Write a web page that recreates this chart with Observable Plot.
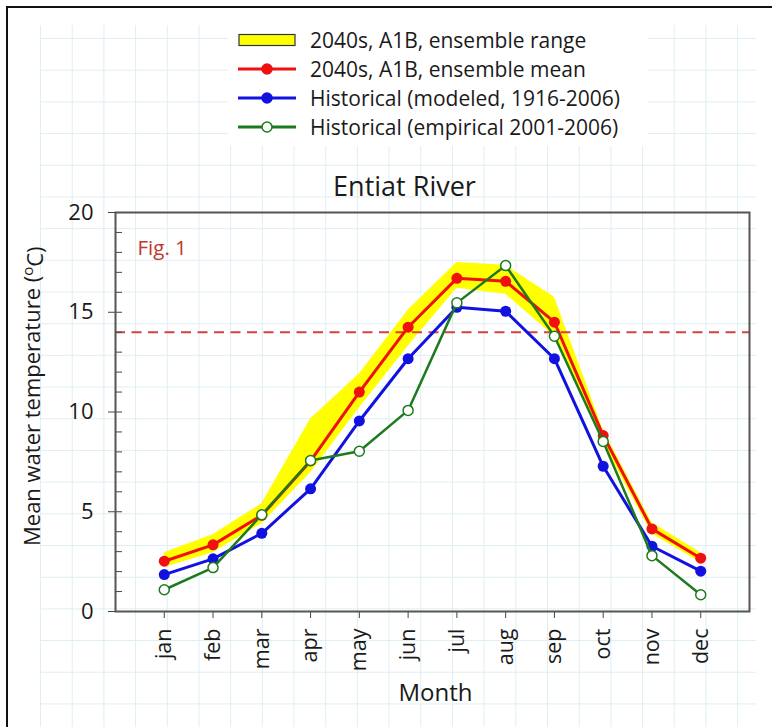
<!DOCTYPE html>
<html><head><meta charset="utf-8">
<script src="https://cdn.jsdelivr.net/npm/d3@7"></script>
<script src="https://cdn.jsdelivr.net/npm/@observablehq/plot@0.6"></script>
<style>
html,body{margin:0;padding:0;background:#fff;}
#page{position:relative;width:772px;height:727px;overflow:hidden;font-family:"Open Sans",sans-serif;color:#1a1a1a;}
#paper{position:absolute;left:40px;top:25px;width:716px;height:702px;
  background-image:linear-gradient(to right,#dfeef2 1px,transparent 1px),linear-gradient(to bottom,#dfeef2 1px,transparent 1px);
  background-size:31.7px 31.7px;background-position:0 13px;}
#border{position:absolute;left:6px;top:6px;width:800px;height:800px;border-left:2px solid #111;border-top:2px solid #111;}
#legend{position:absolute;left:228px;top:20px;width:420px;height:126px;background:#fff;}
.row{position:absolute;left:10px;height:26px;display:flex;align-items:center;font-size:21px;white-space:nowrap;}
.row svg{margin-right:14px;}
#chart{position:absolute;left:0;top:0;}
</style>
</head><body>
<div id="page"><div id="paper"></div><div id="border"></div><div id="legend"></div><div id="chart"></div></div>
<script>
const months = ["jan","feb","mar","apr","may","jun","jul","aug","sep","oct","nov","dec"];
const ensembleMean = [2.52, 3.34, 4.82, 7.55, 11.0, 14.25, 16.7, 16.55, 14.5, 8.82, 4.14, 2.67];
const historicalModeled = [1.85, 2.64, 3.92, 6.15, 9.55, 12.67, 15.25, 15.05, 12.67, 7.28, 3.27, 2.02];
const historicalEmpirical = [1.09, 2.2, 4.85, 7.57, 8.03, 10.08, 15.47, 17.34, 13.8, 8.52, 2.8, 0.84];
const rangeLow = [2.2, 2.95, 4.4, 6.95, 10.2, 13.3, 16.2, 15.9, 13.8, 8.45, 3.9, 2.45];
const rangeHigh = [2.95, 3.85, 5.4, 9.65, 11.9, 15.1, 17.5, 17.35, 15.75, 9.1, 4.45, 2.95];
const threshold = [14];
const yMajor = [0, 5, 10, 15, 20];
const yMinor = [1,2,3,4,6,7,8,9,11,12,13,14,16,17,18,19];
const legendLabels = ["2040s, A1B, ensemble range","2040s, A1B, ensemble mean","Historical (modeled, 1916-2006)","Historical (empirical 2001-2006)"];
const titleText = "Entiat River";
const xLabel = "Month";
const yLabel = "Mean water temperature (oC)";
const figLabel = "Fig. 1";

const RED = "#f01010", BLUE = "#1212e0", GREEN = "#1e7a1e", YELLOW = "#ffff00";

const rows = months.map((m, i) => ({
  m: i + 1, mean: ensembleMean[i], modeled: historicalModeled[i], emp: historicalEmpirical[i],
  lo: rangeLow[i], hi: rangeHigh[i]
}));

const chart = Plot.plot({
  width: 772, height: 727,
  marginTop: 212, marginRight: 23, marginBottom: 116, marginLeft: 115,
  style: {fontFamily: "'Open Sans', sans-serif", background: "transparent", color: "#1a1a1a", overflow: "visible"},
  x: {domain: [0, 13]},
  y: {domain: [0, 20]},
  marks: [
    Plot.areaY(rows, {x: "m", y1: "lo", y2: "hi", fill: YELLOW}),
    Plot.ruleY(threshold, {stroke: "#d84040", strokeWidth: 2, strokeDasharray: "10,6.5"}),
    Plot.line(rows, {x: "m", y: "modeled", stroke: BLUE, strokeWidth: 3}),
    Plot.dot(rows, {x: "m", y: "modeled", r: 5.5, fill: BLUE}),
    Plot.line(rows, {x: "m", y: "mean", stroke: RED, strokeWidth: 3}),
    Plot.dot(rows, {x: "m", y: "mean", r: 5.5, fill: RED}),
    Plot.line(rows, {x: "m", y: "emp", stroke: GREEN, strokeWidth: 2.5}),
    Plot.dot(rows, {x: "m", y: "emp", r: 5, fill: "white", stroke: GREEN, strokeWidth: 1.5}),
    Plot.axisX(d3.range(1, 13), {tickFormat: i => months[i - 1], tickRotate: -90, tickSize: 7, tickPadding: 10, fontSize: 21.5, label: null, stroke: "#444"}),
    Plot.axisY(yMajor, {tickSize: 7, tickPadding: 15, fontSize: 22, label: null, stroke: "#444"}),
    Plot.axisY(yMajor, {tickSize: 7, dx: 7, tickFormat: () => "", label: null, stroke: "#444"}),
    Plot.axisY(yMinor, {tickSize: 7, dx: 7, tickFormat: () => "", label: null, stroke: "#444"}),
    Plot.frame({stroke: "#555", strokeWidth: 2}),
    Plot.text([figLabel], {text: d => d, frameAnchor: "top-left", dx: 22, dy: 28, textAnchor: "start", fill: "#c0392b", fontSize: 20.5}),
    Plot.text([titleText], {text: d => d, frameAnchor: "top", dx: -28, dy: -36, fontSize: 27}),
    Plot.text([xLabel], {text: d => d, frameAnchor: "bottom", dx: 3, dy: 89, fontSize: 24}),
    Plot.text([yLabel], {text: d => d, frameAnchor: "left", dx: -83, dy: 134, rotate: -90, textAnchor: "start", fontSize: 22})
  ]
});
document.getElementById("chart").appendChild(chart);

// superscript "o" in the y label
d3.select(chart).selectAll("text").filter(function() { return this.textContent === yLabel; })
  .each(function() {
    const t = d3.select(this);
    t.text(null);
    t.append("tspan").text("Mean water temperature (");
    t.append("tspan").attr("dy", "-0.45em").attr("font-size", "15").text("o");
    t.append("tspan").attr("dy", "0.45em").text("C)");
  });

// legend
const legend = d3.select("#legend");
const centers = [40, 69, 98, 127];
const styles = [
  {type: "area"},
  {type: "line", color: RED, fill: RED},
  {type: "line", color: BLUE, fill: BLUE},
  {type: "line", color: GREEN, fill: "white"}
];
legendLabels.forEach((lab, i) => {
  const row = legend.append("div").attr("class", "row").style("top", (centers[i] - 20 - 13) + "px");
  const s = row.append("svg").attr("width", 58).attr("height", 24);
  const st = styles[i];
  if (st.type === "area") {
    s.append("rect").attr("x", 1).attr("y", 6.5).attr("width", 56).attr("height", 11).attr("fill", YELLOW).attr("stroke", "#333").attr("stroke-width", 1.2);
  } else {
    s.append("line").attr("x1", 0).attr("x2", 58).attr("y1", 12).attr("y2", 12).attr("stroke", st.color).attr("stroke-width", 3);
    s.append("circle").attr("cx", 29).attr("cy", 12).attr("r", 5).attr("fill", st.fill).attr("stroke", st.color).attr("stroke-width", 1.5);
  }
  row.append("span").text(lab);
});
</script>
</body></html>
